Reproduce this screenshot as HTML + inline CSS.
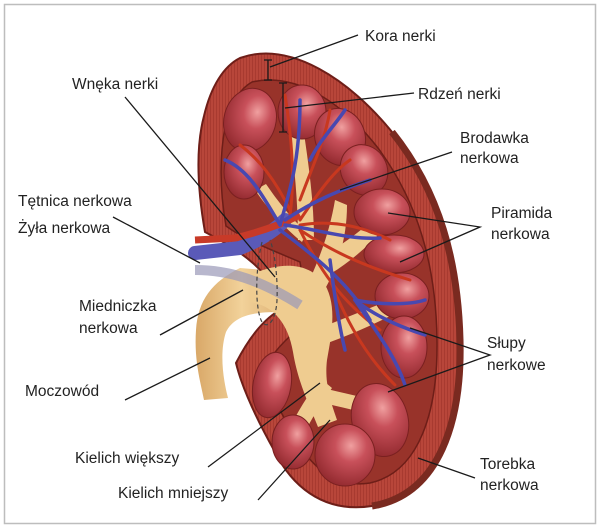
<!DOCTYPE html>
<html><head><meta charset="utf-8"><style>
html,body{margin:0;padding:0;background:#fff;}
svg{display:block}
text{font-family:"Liberation Sans","DejaVu Sans",sans-serif;font-size:15.5px;fill:#222;}
</style></head><body>
<svg width="600" height="528" viewBox="0 0 600 528" xmlns="http://www.w3.org/2000/svg">
<defs>
<radialGradient id="pyr" cx="0.6" cy="0.35" r="0.75">
<stop offset="0" stop-color="#f0a0a0"/><stop offset="0.35" stop-color="#c8505a"/><stop offset="1" stop-color="#8a2428"/>
</radialGradient>
<linearGradient id="tan" x1="0" y1="0" x2="1" y2="0">
<stop offset="0" stop-color="#d9a868"/><stop offset="0.5" stop-color="#f2d29a"/><stop offset="1" stop-color="#dcae70"/>
</linearGradient>
<pattern id="stri" width="3" height="3" patternUnits="userSpaceOnUse"><rect width="3" height="3" fill="#b8463a"/><rect width="1" height="3" fill="#a83a30"/></pattern>
</defs>
<rect x="4.5" y="4.5" width="591" height="519" fill="#fff" stroke="#bdbdbd" stroke-width="1.5"/>

<!-- ureter / pelvis -->
<path d="M240,268 C212,282 198,300 196,330 C194,360 200,380 204,400 L228,398 C222,375 220,350 226,332 C234,316 252,312 278,312 L288,272 Z" fill="url(#tan)"/>

<!-- kidney outer -->
<path d="M240,58 C290,40 350,80 392,132 C440,192 458,262 460,340 C462,420 440,495 372,506 C320,514 290,482 275,452 C256,418 242,388 236,363 C250,336 266,316 284,308 C272,272 240,250 205,232 C198,192 195,150 204,116 C211,86 224,66 240,58 Z" fill="url(#stri)" stroke="#6e1e18" stroke-width="2"/>
<path d="M392,132 C440,192 458,262 460,340 C462,420 440,495 372,506" fill="none" stroke="#7a2a20" stroke-width="7"/>
<!-- inner medulla region -->
<path d="M252,82 C296,72 342,102 378,148 C418,202 436,265 437,340 C438,410 420,472 370,483 C332,489 308,462 294,436 C280,410 268,390 262,370 C278,346 292,332 310,322 L300,262 C272,250 245,240 226,226 C220,192 219,156 226,122 C231,102 241,88 252,82 Z" fill="#98332a" stroke="#6e1e18" stroke-width="1.5"/>

<!-- pelvis branches -->
<g fill="#efcc90">
<path d="M250,275 C280,262 305,262 322,280 C338,302 332,332 327,360 C324,385 332,405 337,420 L318,427 C308,402 298,382 293,352 C288,322 272,305 250,302 Z"/>
<path d="M300,300 C320,260 330,230 335,200 L347,205 C347,240 337,272 317,302 Z"/>
<path d="M288,120 C294,160 298,200 298,240 L314,240 C314,200 308,160 302,120 Z"/>
<path d="M320,328 C345,318 370,308 395,298 L398,312 C375,324 350,335 325,344 Z"/>
<path d="M320,378 C305,400 292,420 285,440 L299,446 C307,425 320,405 332,388 Z"/>
<path d="M322,388 C345,393 365,398 385,403 L383,417 C362,412 340,407 320,402 Z"/>
<path d="M302,242 C282,226 266,206 255,190 L266,184 C277,200 292,220 307,232 Z"/>
<path d="M320,258 C345,243 365,228 380,213 L390,222 C374,240 354,260 330,274 Z"/>
</g>

<!-- pyramids -->
<g fill="url(#pyr)" stroke="#7a2020" stroke-width="1">
<ellipse cx="250" cy="120" rx="26" ry="32" transform="rotate(15 250 120)"/>
<ellipse cx="302" cy="112" rx="24" ry="27"/>
<ellipse cx="340" cy="137" rx="25" ry="29" transform="rotate(-20 340 137)"/>
<ellipse cx="244" cy="172" rx="20" ry="27"/>
<ellipse cx="364" cy="170" rx="23" ry="26" transform="rotate(-30 364 170)"/>
<ellipse cx="382" cy="212" rx="28" ry="23"/>
<ellipse cx="394" cy="254" rx="30" ry="19"/>
<ellipse cx="402" cy="296" rx="27" ry="23"/>
<ellipse cx="404" cy="347" rx="23" ry="31"/>
<ellipse cx="272" cy="385" rx="19" ry="33" transform="rotate(10 272 385)"/>
<ellipse cx="380" cy="420" rx="28" ry="37" transform="rotate(-15 380 420)"/>
<ellipse cx="293" cy="442" rx="21" ry="27"/>
<ellipse cx="345" cy="455" rx="30" ry="31"/>
</g>

<!-- renal vein (behind) -->
<path d="M195,253 L240,248 C260,240 275,230 285,220" fill="none" stroke="#5a5ab8" stroke-width="14" stroke-linecap="round"/>
<path d="M195,270 C230,270 260,280 300,305" fill="none" stroke="#9a98b8" stroke-width="10" opacity="0.7"/>
<!-- artery -->
<path d="M195,240 L235,238 C260,232 280,225 300,215" fill="none" stroke="#c83a28" stroke-width="7"/>
<!-- vessel branches -->
<g fill="none" stroke-linecap="round">
<g stroke="#c8381f" stroke-width="3">
<path d="M290,215 C295,180 292,140 285,95"/><path d="M300,220 C320,190 335,170 350,160"/>
<path d="M300,225 C330,220 360,225 390,240"/><path d="M300,230 C330,250 360,265 410,280"/>
<path d="M300,230 C320,270 340,300 380,330"/><path d="M290,210 C275,180 260,160 240,145"/>
<path d="M330,280 C350,330 370,360 395,385"/><path d="M300,200 C315,160 325,140 330,110"/>
</g>
<g stroke="#4848b0" stroke-width="3.5">
<path d="M280,225 C290,190 300,160 300,100"/><path d="M280,225 C265,200 250,170 225,160"/>
<path d="M285,220 C315,200 340,190 370,180"/><path d="M285,225 C320,230 350,240 380,238"/>
<path d="M280,230 C320,260 350,285 370,320"/><path d="M355,300 C380,305 410,305 425,300"/>
<path d="M355,300 C375,330 395,355 405,385"/><path d="M355,300 C380,320 410,330 425,335"/>
<path d="M310,160 C320,140 335,125 345,110"/><path d="M330,260 C335,300 340,330 345,350"/>
</g>
</g>

<!-- dashed hilum loop -->
<path d="M262,242 C255,270 255,310 262,322 C268,330 276,320 277,300 C278,275 274,250 270,240" fill="none" stroke="#444" stroke-width="1.2" stroke-dasharray="4,3"/>

<!-- leader lines -->
<g stroke="#1a1a1a" stroke-width="1.3" fill="none">
<path d="M268,60 V80 M264,60 H272 M264,80 H272"/>
<path d="M270,67 L358,35"/>
<path d="M283,83 V132 M279,83 H287 M279,132 H287"/>
<path d="M285,108 L414,93"/>
<path d="M125,97 L275,277"/>
<path d="M340,190 L452,152"/>
<path d="M388,213 L480,227 L400,262"/>
<path d="M113,217 L200,263"/>
<path d="M160,335 L243,290"/>
<path d="M410,328 L490,355 L388,392"/>
<path d="M125,400 L210,358"/>
<path d="M208,467 L320,383"/>
<path d="M258,500 L330,420"/>
<path d="M418,458 L475,478"/>
</g>

<!-- labels -->
<text x="365" y="41">Kora nerki</text>
<text x="72" y="89">Wnęka nerki</text>
<text x="418" y="99">Rdzeń nerki</text>
<text x="460" y="143">Brodawka</text>
<text x="460" y="163">nerkowa</text>
<text x="491" y="218">Piramida</text>
<text x="491" y="239">nerkowa</text>
<text x="18" y="206">Tętnica nerkowa</text>
<text x="18" y="233">Żyła nerkowa</text>
<text x="79" y="311">Miedniczka</text>
<text x="79" y="333">nerkowa</text>
<text x="487" y="348">Słupy</text>
<text x="487" y="370">nerkowe</text>
<text x="25" y="396">Moczowód</text>
<text x="75" y="463">Kielich większy</text>
<text x="118" y="498">Kielich mniejszy</text>
<text x="480" y="469">Torebka</text>
<text x="480" y="490">nerkowa</text>
</svg>
</body></html>
